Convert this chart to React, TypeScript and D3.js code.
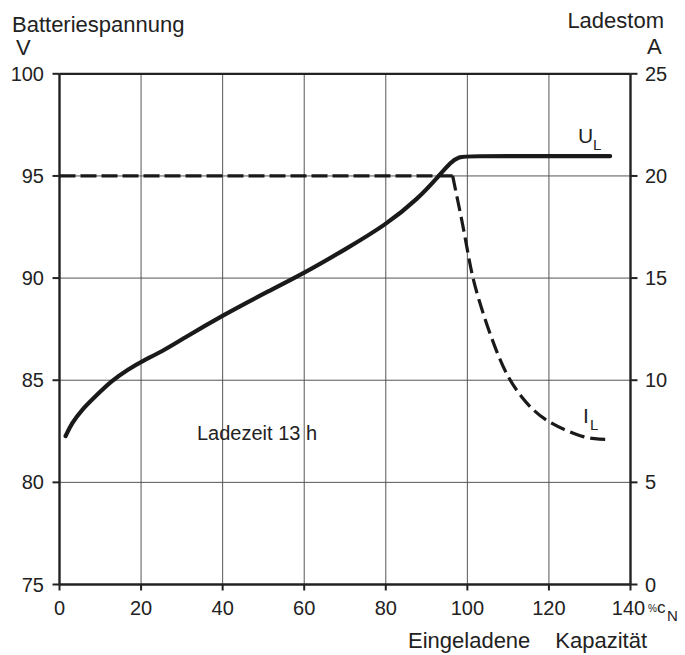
import React from "react";
import * as d3 from "d3";

const xTicks = [0, 20, 40, 60, 80, 100, 120, 140];
const vTicks = [75, 80, 85, 90, 95, 100];
const aTicks = [0, 5, 10, 15, 20, 25];

// U_L: battery voltage (V) vs charged capacity (% C_N)
const ulX = [1.5, 3.0, 5.4, 8.7, 12.8, 16.9, 20.3, 25.1, 30.4, 40, 50, 60, 70, 80, 88, 93, 96, 98, 100, 120, 135];
const ulV = [82.27, 82.89, 83.54, 84.19, 84.98, 85.54, 85.94, 86.4, 87.05, 88.17, 89.23, 90.24, 91.4, 92.6, 93.9, 95.0, 95.7, 95.94, 95.97, 95.97, 95.97];

// I_L: charging current (A) vs charged capacity
const ilFlatX = [0, 96.4];
const ilFlatA = [20, 20];
const ilX = [96.4, 97.6, 98.8, 100, 101.2, 102.8, 104.9, 107.3, 109.8, 113.1, 116.4, 119.7, 123.8, 127.8, 131.1, 135];
const ilA = [20, 18.83, 17.69, 16.38, 15.08, 13.94, 12.63, 11.33, 10.18, 9.2, 8.47, 7.98, 7.57, 7.25, 7.12, 7.09];

const FONT = "'Liberation Sans', Arial, sans-serif";

export default function App() {
  const W = 685, H = 655;
  const x = d3.scaleLinear().domain([0, 140]).range([59.5, 630.5]);
  const yV = d3.scaleLinear().domain([75, 100]).range([584.5, 73.8]);
  const yA = d3.scaleLinear().domain([0, 25]).range([584.5, 73.8]);

  const ulPath = d3.line<number>().x((_, i) => x(ulX[i])).y((d) => yV(d)).curve(d3.curveBasis)(ulV) || "";
  const ilFlatPath = d3.line<number>().x((_, i) => x(ilFlatX[i])).y((d) => yA(d))(ilFlatA) || "";
  const ilPath = d3.line<number>().x((_, i) => x(ilX[i])).y((d) => yA(d)).curve(d3.curveBasis)(ilA) || "";

  const x0 = x(0), x1 = x(140), yTop = yV(100), yBot = yV(75);

  return (
    <svg width={W} height={H} style={{ position: "absolute", left: 0, top: 0, background: "#fff" }} fontFamily={FONT}>
      <rect width={W} height={H} fill="#fff" />
      {/* grid */}
      {xTicks.slice(1, -1).map((t) => (
        <line key={"gx" + t} x1={x(t)} x2={x(t)} y1={yTop} y2={yBot} stroke="#555" strokeWidth={1} />
      ))}
      {vTicks.slice(1, -1).map((t) => (
        <line key={"gy" + t} x1={x0} x2={x1} y1={yV(t)} y2={yV(t)} stroke="#555" strokeWidth={1} />
      ))}
      {/* frame */}
      <line x1={x0} x2={x1} y1={yTop} y2={yTop} stroke="#222" strokeWidth={2.2} />
      <line x1={x0} x2={x1} y1={yBot} y2={yBot} stroke="#222" strokeWidth={2.4} />
      <line x1={x0} x2={x0} y1={yTop} y2={yBot} stroke="#222" strokeWidth={2.4} />
      <line x1={x1} x2={x1} y1={yTop} y2={yBot} stroke="#222" strokeWidth={2.4} />
      {/* left ticks */}
      {vTicks.map((t) => (
        <g key={"lv" + t}>
          <line x1={x0 - 7} x2={x0} y1={yV(t)} y2={yV(t)} stroke="#222" strokeWidth={2} />
          <text x={44} y={yV(t) + 7} textAnchor="end" fontSize={20} fill="#222">{t}</text>
        </g>
      ))}
      {/* right ticks */}
      {aTicks.map((t) => (
        <g key={"ra" + t}>
          <line x1={x1} x2={x1 + 7} y1={yA(t)} y2={yA(t)} stroke="#222" strokeWidth={2} />
          <text x={645} y={yA(t) + 7} textAnchor="start" fontSize={20} fill="#222">{t}</text>
        </g>
      ))}
      {/* bottom ticks */}
      {xTicks.map((t) => (
        <g key={"bx" + t}>
          <line x1={x(t)} x2={x(t)} y1={yBot} y2={yBot + 6} stroke="#222" strokeWidth={2} />
          <text x={x(t) - (t === 140 ? 2 : 0)} y={615} textAnchor="middle" fontSize={20} fill="#222">{t}</text>
        </g>
      ))}
      <text x={648} y={612} fontSize={10} fill="#222">%</text>
      <text x={657} y={613} fontSize={17} fill="#222">c</text>
      <text x={667} y={621} fontSize={15} fill="#222">N</text>

      {/* curves */}
      <path d={ilFlatPath} fill="none" stroke="#1a1a1a" strokeWidth={3.2} strokeDasharray="16 5" />
      <path d={ilPath} fill="none" stroke="#1a1a1a" strokeWidth={3.2} strokeDasharray="15 6" />
      <path d={ulPath} fill="none" stroke="#1a1a1a" strokeWidth={4.2} strokeLinecap="round" />

      {/* labels */}
      <text x={12} y={32} fontSize={22} fill="#222">Batteriespannung</text>
      <text x={16} y={55} fontSize={22} fill="#222">V</text>
      <text x={664} y={28} textAnchor="end" fontSize={22} fill="#222">Ladestom</text>
      <text x={647} y={54} fontSize={22} fill="#222">A</text>
      <text x={408} y={648} fontSize={22} fill="#222">Eingeladene</text>
      <text x={647} y={648} textAnchor="end" fontSize={22} fill="#222">Kapazität</text>
      <text x={197} y={440} fontSize={20} fill="#222">Ladezeit 13 h</text>
      <text x={578} y={143} fontSize={21} fill="#222">U</text>
      <text x={593} y={150} fontSize={15} fill="#222">L</text>
      <text x={583} y={423} fontSize={21} fill="#222">I</text>
      <text x={590} y={430} fontSize={15} fill="#222">L</text>
    </svg>
  );
}
